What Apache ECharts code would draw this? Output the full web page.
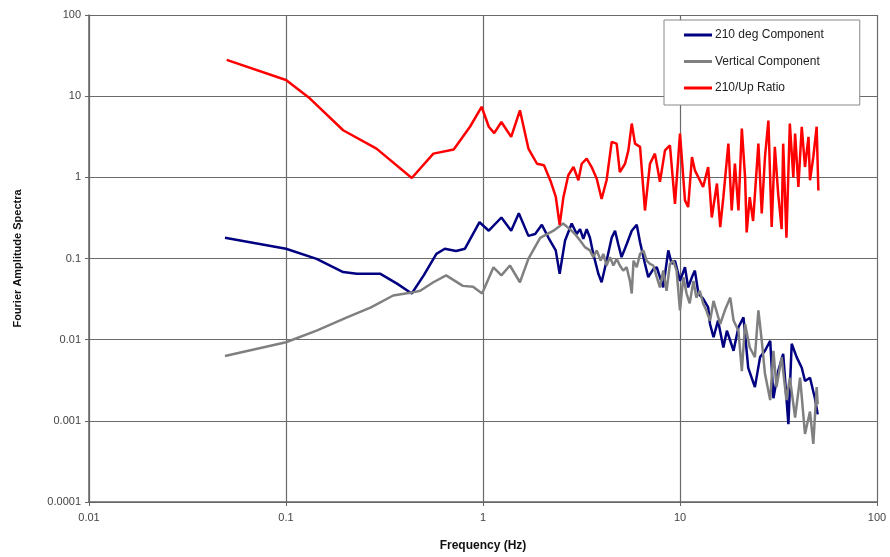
<!DOCTYPE html>
<html>
<head>
<meta charset="utf-8">
<script src="https://cdn.jsdelivr.net/npm/echarts@6/dist/echarts.min.js"></script>
<style>
  html, body { margin: 0; padding: 0; background: #fff; }
  #chart { width: 890px; height: 557px; }
</style>
</head>
<body>
<div id="chart"></div>
<script>
// frequencies (Hz) and amplitudes
const freq210 = [0.049, 0.1, 0.143, 0.195, 0.229, 0.30, 0.366, 0.435, 0.50, 0.58, 0.64, 0.73, 0.81, 0.96, 1.07, 1.24, 1.39, 1.52, 1.70, 1.84, 1.99, 2.15, 2.34, 2.45, 2.61, 2.82, 2.99, 3.11, 3.23, 3.36, 3.49, 3.63, 3.85, 4.0, 4.24, 4.5, 4.68, 4.86, 5.05, 5.36, 5.69, 6.03, 6.27, 6.64, 6.9, 7.32, 7.62, 7.91, 8.22, 8.72, 9.07, 9.43, 10, 10.6, 11.0, 11.5, 11.9, 12.4, 13.1, 13.9, 14.2, 14.8, 15.6, 16.6, 17.3, 18.7, 19.8, 21.0, 22.2, 24.0, 25.5, 27.0, 28.7, 29.8, 31.5, 33.4, 35.5, 36.9, 39.1, 41.5, 43.1, 45.7, 48.4, 50];
const amp210 = [0.18, 0.132, 0.099, 0.068, 0.065, 0.065, 0.049, 0.037, 0.062, 0.114, 0.132, 0.124, 0.132, 0.28, 0.22, 0.32, 0.22, 0.36, 0.19, 0.20, 0.26, 0.18, 0.126, 0.065, 0.167, 0.27, 0.2, 0.23, 0.175, 0.23, 0.18, 0.114, 0.065, 0.051, 0.094, 0.18, 0.22, 0.15, 0.104, 0.15, 0.22, 0.26, 0.159, 0.086, 0.059, 0.074, 0.078, 0.059, 0.044, 0.126, 0.086, 0.094, 0.053, 0.078, 0.044, 0.059, 0.071, 0.037, 0.032, 0.025, 0.0156, 0.0107, 0.0172, 0.008, 0.0129, 0.0073, 0.0142, 0.0188, 0.0045, 0.0026, 0.0061, 0.0073, 0.0097, 0.0019, 0.0041, 0.0067, 0.00091, 0.0089, 0.0061, 0.0045, 0.0031, 0.0034, 0.0019, 0.0012];

const freqVert = [0.049, 0.1, 0.143, 0.204, 0.27, 0.35, 0.435, 0.48, 0.56, 0.65, 0.79, 0.89, 0.99, 1.13, 1.24, 1.37, 1.54, 1.70, 1.95, 2.28, 2.55, 2.76, 2.93, 3.11, 3.29, 3.49, 3.63, 3.78, 3.96, 4.08, 4.24, 4.41, 4.59, 4.77, 4.95, 5.15, 5.36, 5.57, 5.69, 5.81, 6.03, 6.27, 6.52, 6.77, 7.04, 7.32, 7.62, 7.91, 8.22, 8.55, 8.89, 9.24, 9.61, 10, 10.4, 10.8, 11.2, 11.7, 12.1, 12.6, 13.1, 13.6, 14.2, 14.8, 16.0, 16.9, 18.0, 18.7, 19.8, 20.6, 21.4, 22.6, 24.0, 25.0, 26.0, 27.0, 28.7, 29.8, 30.9, 32.8, 34.7, 36.1, 38.4, 40.7, 43.1, 45.7, 47.5, 49.4, 50];
const ampVert = [0.0063, 0.0093, 0.0129, 0.0188, 0.025, 0.035, 0.038, 0.04, 0.051, 0.062, 0.046, 0.045, 0.037, 0.078, 0.062, 0.082, 0.051, 0.099, 0.18, 0.22, 0.27, 0.23, 0.2, 0.167, 0.138, 0.126, 0.104, 0.126, 0.094, 0.114, 0.082, 0.104, 0.082, 0.099, 0.082, 0.071, 0.078, 0.053, 0.037, 0.094, 0.078, 0.114, 0.126, 0.094, 0.086, 0.082, 0.059, 0.044, 0.071, 0.040, 0.086, 0.094, 0.071, 0.023, 0.059, 0.037, 0.028, 0.053, 0.033, 0.040, 0.028, 0.023, 0.017, 0.030, 0.0156, 0.023, 0.033, 0.0172, 0.0129, 0.0041, 0.0156, 0.008, 0.0061, 0.023, 0.0097, 0.0038, 0.0018, 0.0073, 0.0026, 0.0061, 0.0018, 0.0034, 0.0011, 0.0034, 0.00069, 0.0013, 0.00052, 0.0026, 0.0016];

const freqRatio = [0.05, 0.1, 0.132, 0.195, 0.288, 0.435, 0.56, 0.71, 0.859, 0.984, 1.07, 1.14, 1.24, 1.39, 1.54, 1.70, 1.88, 2.04, 2.21, 2.34, 2.45, 2.56, 2.71, 2.88, 3.05, 3.17, 3.36, 3.56, 3.78, 4.0, 4.24, 4.5, 4.77, 4.95, 5.26, 5.47, 5.69, 5.91, 6.27, 6.64, 7.04, 7.46, 7.91, 8.39, 8.89, 9.43, 10, 10.6, 11.0, 11.5, 11.9, 12.4, 13.1, 13.9, 14.5, 15.4, 16.0, 16.6, 17.6, 18.3, 19.0, 19.8, 20.6, 21.4, 21.8, 22.6, 23.5, 25.0, 26.0, 27.0, 28.1, 29.2, 30.3, 31.5, 32.8, 33.4, 34.7, 36.1, 37.6, 38.4, 39.9, 41.5, 43.1, 44.9, 45.7, 47.5, 49.4, 50.4];
const ampRatio = [28, 15.8, 9.4, 3.8, 2.26, 0.98, 1.96, 2.2, 4.2, 7.4, 4.2, 3.5, 4.8, 3.15, 6.7, 2.26, 1.47, 1.41, 0.88, 0.58, 0.26, 0.57, 1.06, 1.34, 0.92, 1.47, 1.7, 1.34, 0.96, 0.54, 0.92, 2.73, 2.6, 1.16, 1.47, 2.15, 4.6, 2.6, 2.37, 0.39, 1.47, 1.96, 0.88, 2.15, 2.48, 0.47, 3.46, 0.52, 0.43, 1.78, 1.22, 1.0, 0.76, 1.34, 0.32, 0.84, 0.244, 0.57, 2.6, 0.39, 1.48, 0.39, 4.0, 1.0, 0.21, 0.57, 0.29, 2.6, 0.36, 1.78, 5.0, 0.244, 2.37, 0.63, 0.23, 2.6, 0.18, 4.6, 1.0, 3.46, 0.76, 4.2, 1.34, 3.15, 0.92, 1.78, 4.2, 0.69];

const xTicks = ['0.01', '0.1', '1', '10', '100'];
const yTicks = ['0.0001', '0.001', '0.01', '0.1', '1', '10', '100'];

function pairs(fs, vs) {
    return fs.map(function(f, i) { return [f, vs[i]]; });
}

const chart = echarts.init(document.getElementById('chart'));
const font = 'Liberation Sans, Arial, sans-serif';

chart.setOption({
    animation: false,
    backgroundColor: '#fff',
    textStyle: { fontFamily: font },
    grid: { left: 89, right: 13, top: 15, bottom: 55 },
    legend: {
        orient: 'vertical',
        left: 664,
        top: 20,
        padding: [9, 36, 11, 20],
        itemGap: 14.5,
        itemWidth: 28,
        itemHeight: 3,
        icon: 'rect',
        backgroundColor: '#fff',
        borderColor: '#888',
        borderWidth: 1,
        textStyle: { fontFamily: font, fontSize: 12, color: '#222', padding: [0, 0, 0, -2] },
        data: ['210 deg Component', 'Vertical Component', '210/Up Ratio']
    },
    xAxis: {
        type: 'log',
        logBase: 10,
        min: 0.01,
        max: 100,
        name: 'Frequency (Hz)',
        nameLocation: 'middle',
        nameGap: 38,
        nameTextStyle: { fontFamily: font, fontSize: 12, fontWeight: 'bold', color: '#111' },
        axisLine: { show: true, lineStyle: { color: '#666', width: 1.5 } },
        axisTick: { show: true, length: 4, lineStyle: { color: '#666' } },
        minorTick: { show: false },
        splitLine: { show: true, lineStyle: { color: '#6a6a6a', width: 1.2 } },
        axisLabel: {
            fontFamily: font, fontSize: 11, color: '#444', margin: 10,
            formatter: function(v) { return xTicks.find(function(t) { return Math.abs(+t - v) < v * 1e-6; }) || ''; }
        }
    },
    yAxis: {
        type: 'log',
        logBase: 10,
        min: 0.0001,
        max: 100,
        name: 'Fourier Amplitude Spectra',
        nameLocation: 'middle',
        nameRotate: 90,
        nameGap: 66,
        nameTextStyle: { fontFamily: font, fontSize: 11, fontWeight: 'bold', color: '#111' },
        axisLine: { show: true, lineStyle: { color: '#666', width: 1.5 } },
        axisTick: { show: true, length: 4, lineStyle: { color: '#666' } },
        minorTick: { show: false },
        splitLine: { show: true, lineStyle: { color: '#6a6a6a', width: 1.2 } },
        axisLabel: {
            fontFamily: font, fontSize: 11, color: '#444', margin: 8,
            formatter: function(v) { return yTicks.find(function(t) { return Math.abs(+t - v) < v * 1e-6; }) || ''; }
        }
    },
    series: [
        {
            name: '210 deg Component',
            type: 'line',
            showSymbol: false,
            color: '#000080',
            lineStyle: { width: 2.5, color: '#000080' },
            data: pairs(freq210, amp210)
        },
        {
            name: 'Vertical Component',
            type: 'line',
            showSymbol: false,
            color: '#808080',
            lineStyle: { width: 2.5, color: '#808080' },
            data: pairs(freqVert, ampVert)
        },
        {
            name: '210/Up Ratio',
            type: 'line',
            showSymbol: false,
            color: '#ff0000',
            lineStyle: { width: 2.5, color: '#ff0000' },
            data: pairs(freqRatio, ampRatio)
        }
    ]
});
</script>
</body>
</html>
